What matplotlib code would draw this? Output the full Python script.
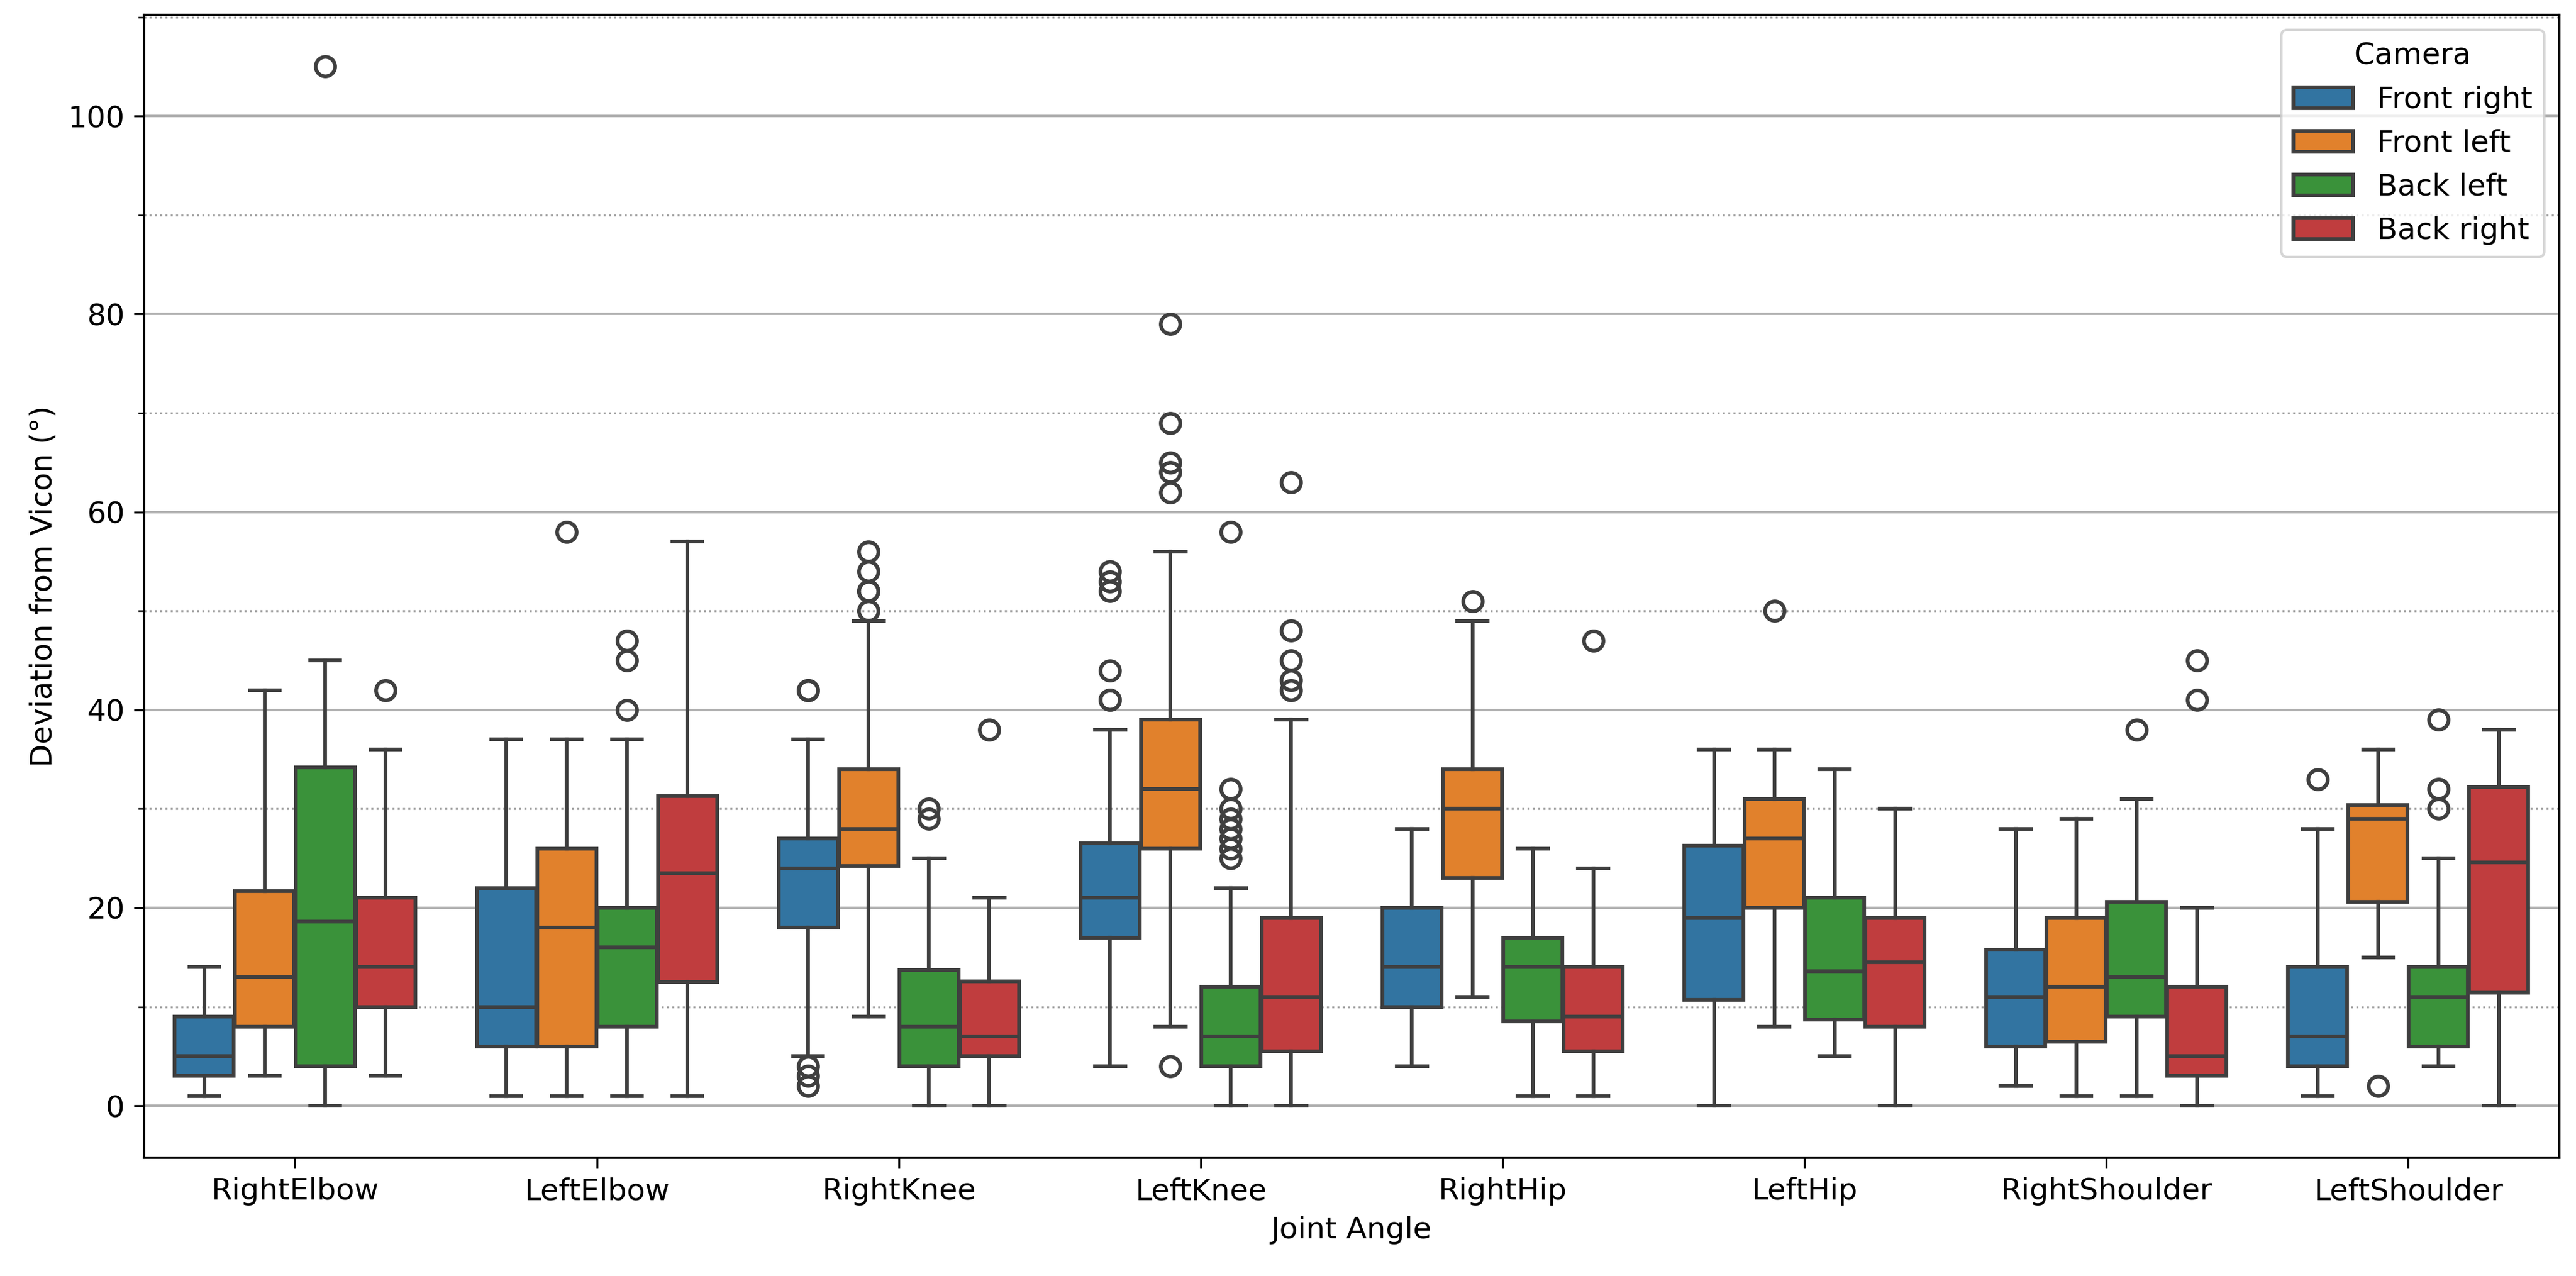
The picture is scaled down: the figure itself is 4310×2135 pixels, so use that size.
import numpy as np
import matplotlib
matplotlib.use("Agg")
import matplotlib.pyplot as plt
from matplotlib.patches import Patch
from matplotlib.ticker import MultipleLocator

# データ（図から読み取った箱ひげ図の統計量）
joints = ["RightElbow", "LeftElbow", "RightKnee", "LeftKnee",
          "RightHip", "LeftHip", "RightShoulder", "LeftShoulder"]
cameras = ["Front right", "Front left", "Back left", "Back right"]

# 行 = 関節, 列 = カメラ
whislo = [[1, 3, 0, 3], [1, 1, 1, 1], [5, 9, 0, 0], [4, 8, 0, 0],
          [4, 11, 1, 1], [0, 8, 5, 0], [2, 1, 1, 0], [1, 15, 4, 0]]
q1 = [[3, 8, 4, 10], [6, 6, 8, 12.5], [18, 24.2, 4, 5], [17, 26, 4, 5.5],
      [10, 23, 8.5, 5.5], [10.7, 20, 8.7, 8], [6, 6.5, 9, 3], [4, 20.6, 6, 11.4]]
med = [[5, 13, 18.6, 14], [10, 18, 16, 23.5], [24, 28, 8, 7], [21, 32, 7, 11],
       [14, 30, 14, 9], [19, 27, 13.6, 14.5], [11, 12, 13, 5], [7, 29, 11, 24.6]]
q3 = [[9, 21.7, 34.2, 21], [22, 26, 20, 31.3], [27, 34, 13.7, 12.6], [26.5, 39, 12, 19],
      [20, 34, 17, 14], [26.3, 31, 21, 19], [15.8, 19, 20.6, 12], [14, 30.4, 14, 32.2]]
whishi = [[14, 42, 45, 36], [37, 37, 37, 57], [37, 49, 25, 21], [38, 56, 22, 39],
          [28, 49, 26, 24], [36, 36, 34, 30], [28, 29, 31, 20], [28, 36, 25, 38]]
fliers = [
    [[], [], [105], [42]],
    [[], [58], [47, 45, 40], []],
    [[42, 42, 4, 3, 2], [56, 54, 52, 52, 50], [30, 29], [38]],
    [[54, 53, 52, 44, 41, 41], [79, 69, 65, 64, 62, 4], [58, 32, 30, 29, 28, 27, 26, 25],
     [63, 48, 45, 43, 42]],
    [[], [51], [], [47]],
    [[], [50], [], []],
    [[], [], [38], [45, 41]],
    [[33], [2], [39, 32, 30], []],
]

colors = ["#3274a1", "#e1812c", "#3a923a", "#c03d3e"]
line_c = "#3f3f3f"

plt.rcParams["font.size"] = 12
plt.rcParams["axes.linewidth"] = 1.0
plt.rcParams["xtick.major.size"] = 4.2
plt.rcParams["ytick.major.size"] = 4.2
plt.rcParams["ytick.minor.size"] = 2.4

fig = plt.figure(figsize=(4310 / 300, 2135 / 300), dpi=300)
ax = fig.add_axes([0.0559, 0.0927, 0.9935 - 0.0559, 0.9885 - 0.0927])

box_w = 0.2
lw = 1.5
for j in range(len(cameras)):
    stats = []
    for i in range(len(joints)):
        stats.append(dict(whislo=whislo[i][j], q1=q1[i][j], med=med[i][j],
                          q3=q3[i][j], whishi=whishi[i][j], fliers=fliers[i][j]))
    pos = np.arange(len(joints)) - 0.3 + j * box_w
    ax.bxp(stats, positions=pos, widths=box_w * 0.98, patch_artist=True,
           capwidths=box_w * 0.5, manage_ticks=False,
           boxprops=dict(facecolor=colors[j], edgecolor=line_c, linewidth=lw),
           medianprops=dict(color=line_c, linewidth=lw),
           whiskerprops=dict(color=line_c, linewidth=lw),
           capprops=dict(color=line_c, linewidth=lw),
           flierprops=dict(marker="o", markerfacecolor="none",
                           markeredgecolor=line_c, markersize=7.8,
                           markeredgewidth=lw))

ax.set_xticks(range(len(joints)))
ax.set_xticklabels(joints)
ax.set_xlim(-0.5, len(joints) - 0.5)
ax.set_ylim(-5.25, 110.25)
ax.set_yticks([0, 20, 40, 60, 80, 100])
ax.yaxis.set_minor_locator(MultipleLocator(10))
ax.grid(which="major", axis="y", color="#b0b0b0", linewidth=1.0)
ax.grid(which="minor", axis="y", color="#a0a0a0", linestyle=":", linewidth=0.8)
ax.set_axisbelow(True)

ax.set_xlabel("Joint Angle")
ax.set_ylabel("Deviation from Vicon (°)")

handles = [Patch(facecolor=c, edgecolor=line_c, linewidth=lw, label=l)
           for c, l in zip(colors, cameras)]
ax.legend(handles=handles, title="Camera", loc="upper right")

fig.savefig("out.png", dpi=300)
